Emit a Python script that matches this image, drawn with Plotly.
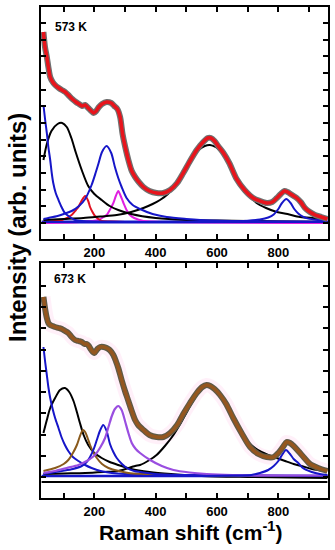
import plotly.graph_objects as go

# ---------------- 573 K panel (y in arbitrary units) ----------------
x_fit_573 = [34, 39, 45, 50, 56, 64, 72, 84, 94, 105, 115, 128, 140, 150, 160, 170, 180, 190, 198, 206,
             215, 225, 240, 255, 265, 275, 284, 292, 300, 311, 322, 333, 345, 360, 380, 403, 425, 447,
             470, 490, 512, 534, 555, 570, 580, 592, 606, 621, 640, 664, 690, 718, 740, 762, 780, 795,
             808, 820, 830, 840, 850, 860, 873, 887, 903, 920, 940, 960]
y_fit_573 = [207, 192, 182, 172, 162, 157, 154, 151, 149, 147, 144, 140, 137, 135, 133, 134, 131, 128, 126, 128,
             132, 135, 137, 136, 133, 130, 122, 105, 93, 79, 68, 62, 57, 52, 48, 46, 46, 49,
             56, 66, 78, 89, 97, 101, 101, 98, 92, 86, 76, 60, 49, 41, 38, 36, 37, 41,
             45, 48, 47, 45, 43, 41, 37, 31, 27, 24, 22, 20]

x_b1_573 = [34, 45, 60, 80, 95, 110, 125, 140, 160, 180, 200, 224, 250, 278, 320, 400, 500, 600, 700, 800, 960]
y_b1_573 = [79, 95, 108, 115, 116, 112, 101, 86, 68, 53, 45, 39, 33, 29, 25, 21, 19, 18.5, 18, 17.5, 17]

x_b2_573 = [34, 100, 164, 220, 273, 320, 360, 390, 414, 440, 458, 480, 499, 520, 540, 560, 577, 595, 615,
            632, 650, 675, 700, 729, 760, 795, 830, 871, 920, 960]
y_b2_573 = [19, 20, 21, 22.5, 24, 27, 31, 35, 39, 45, 52, 61, 72, 82, 89, 93, 94, 92, 87,
            82, 70, 54, 45, 36, 31, 27, 25, 22, 21, 20]

x_bd_573 = [34, 40, 45, 50, 56, 61, 66, 74, 83, 93, 104, 120, 137, 160, 200, 300, 500, 960]
y_bd_573 = [134, 118, 106, 92, 79, 66, 56, 46, 39, 32, 26, 22, 19, 18, 17.5, 17, 17, 17]

x_bp_573 = [34, 50, 80, 100, 126, 150, 170, 191, 205, 213, 225, 240, 255, 267, 278, 289, 305, 325, 349, 390,
            436, 500, 545, 650, 960]
y_bp_573 = [20, 21, 23, 25, 28, 33, 40, 54, 67, 75, 87, 93, 86, 72, 61, 52, 41, 34, 30, 25,
            22, 20, 19, 18, 17]

x_r_573 = [34, 94, 126, 140, 148, 158, 170, 180, 186, 194, 202, 213, 224, 250, 300, 960]
y_r_573 = [17, 19, 24, 29, 32, 38, 43, 38, 32, 27, 23, 20, 18, 17.5, 17, 17]

x_m_573 = [34, 150, 213, 230, 240, 252, 262, 270, 278, 286, 295, 305, 316, 330, 360, 450, 960]
y_m_573 = [16, 17, 19, 22, 24, 30, 36, 43, 48, 43, 36, 29, 24, 21, 18, 17, 16]

x_b825_573 = [34, 400, 600, 700, 740, 767, 785, 800, 812, 826, 840, 852, 865, 880, 898, 930, 960]
y_b825_573 = [17, 17, 17.5, 18.3, 19.5, 21.5, 24.5, 30, 36, 40, 36, 30, 25.6, 22.4, 20.4, 19, 18.2]

x_base_573 = [28, 960]
y_base_573 = [17, 17]

# ---------------- 673 K panel ----------------
x_fit_673 = [34, 39, 45, 50, 56, 64, 72, 84, 94, 105, 115, 126, 137, 148, 159, 168, 175, 182, 190, 200,
             210, 219, 230, 240, 250, 262, 270, 278, 289, 300, 311, 322, 333, 343, 360, 380, 403, 425,
             447, 470, 490, 512, 534, 552, 566, 578, 592, 610, 630, 653, 680, 708, 735, 762, 785, 800,
             815, 827, 838, 850, 865, 885, 903, 930, 960]
y_fit_673 = [201, 190, 180, 175, 173, 172, 171, 170, 169, 167, 165, 161, 158, 157, 156, 154, 154, 152, 148, 145,
             149, 151, 151, 150, 148, 143, 137, 130, 118, 107, 97, 87, 78, 73, 68, 63, 61, 61,
             65, 73, 84, 95, 105, 111, 113, 112, 109, 103, 94, 80, 65, 51, 44, 41, 41, 45,
             51, 56, 55, 52, 47, 40, 34, 30, 27]

x_b1_673 = [34, 45, 56, 72, 88, 104, 118, 132, 143, 153, 165, 180, 200, 224, 250, 278, 320, 380, 450, 550, 700, 960]
y_b1_673 = [65, 78, 90, 100, 108, 110, 106, 97, 86, 75, 63, 53, 45, 40, 36, 33, 29, 26, 24, 22, 21, 20]

x_b2_673 = [34, 100, 170, 230, 278, 333, 349, 380, 403, 430, 458, 480, 500, 520, 540, 555, 572, 590, 610,
            630, 653, 680, 705, 724, 745, 767, 795, 822, 850, 876, 910, 952]
y_b2_673 = [24, 24.5, 25, 26, 27, 32, 33, 38, 43, 52, 63, 74, 85, 96, 105, 110, 112, 110, 103,
            94, 80, 65, 55, 50, 46, 43, 40, 37, 34, 32, 29, 27]

x_bd_673 = [34, 40, 45, 50, 56, 64, 72, 83, 94, 104, 115, 130, 148, 170, 191, 220, 257, 300, 400, 600, 960]
y_bd_673 = [151, 135, 123, 111, 100, 89, 80, 70, 60, 53, 47, 41, 37, 33, 30, 27, 25, 24, 23, 22, 22]

x_br_673 = [34, 72, 100, 115, 130, 143, 152, 160, 164, 170, 178, 186, 196, 208, 225, 246, 280, 311, 360, 450, 960]
y_br_673 = [27, 30, 34, 38, 45, 53, 61, 67, 68, 66, 60, 53, 46, 40, 34, 30, 27, 25, 24, 23, 22]

x_bp_673 = [34, 94, 130, 159, 175, 186, 198, 208, 218, 229, 240, 251, 262, 273, 290, 306, 330, 349, 400, 500, 960]
y_bp_673 = [24, 27, 29, 32, 36, 41, 49, 58, 67, 73, 67, 54, 46, 40, 34, 30, 27, 26, 24, 23, 22]

x_pp_673 = [34, 72, 110, 148, 175, 202, 220, 235, 247, 257, 267, 278, 289, 300, 311, 322, 335, 349, 382, 420,
            458, 510, 567, 650, 800, 960]
y_pp_673 = [25, 27, 30, 33, 37, 43, 51, 60, 72, 82, 89, 92, 88, 77, 65, 55, 49, 45, 38, 32,
            28, 25.5, 24, 23, 22.5, 22.5]

x_b825_673 = [34, 500, 650, 712, 740, 767, 785, 800, 812, 825, 838, 850, 865, 880, 909, 935, 960]
y_b825_673 = [22, 22, 22.5, 23, 25, 28, 32, 37, 43, 48, 44, 39, 35, 30, 26, 24, 23]

x_base_673 = [28, 960]
y_base1_673 = [22, 22]
y_base2_673 = [16, 16]

y_ticks_573 = [16, 32.7, 49.3, 66, 82.7, 99.3, 116, 132.7, 149.3, 166, 182.7, 199.3, 216]
y_ticks_673 = [21, 42.3, 63.5, 84.8, 106, 127.3, 148.5, 169.8, 191, 212.3]

FONT = "Liberation Sans, Arial, sans-serif"
BLUE = "#1616c8"

fig = go.Figure()

def add(x, y, color, width, xa, ya):
    fig.add_trace(go.Scatter(x=x, y=y, mode="lines", xaxis=xa, yaxis=ya,
                             line=dict(color=color, width=width, shape="spline", smoothing=0.8),
                             hoverinfo="skip", showlegend=False))

# top panel
add(x_base_573, y_base_573, BLUE, 3, "x", "y")
add(x_m_573, y_m_573, "#e020e0", 2, "x", "y")
add(x_r_573, y_r_573, "#e01020", 2, "x", "y")
add(x_b1_573, y_b1_573, "black", 2, "x", "y")
add(x_b2_573, y_b2_573, "black", 2, "x", "y")
add(x_bd_573, y_bd_573, BLUE, 2, "x", "y")
add(x_bp_573, y_bp_573, BLUE, 2, "x", "y")
add(x_b825_573, y_b825_573, BLUE, 2, "x", "y")
add(x_fit_573, y_fit_573, "#707070", 6, "x", "y")
add(x_fit_573, y_fit_573, "#e8141c", 3.5, "x", "y")

# bottom panel
add(x_fit_673, y_fit_673, "rgba(255,170,220,0.18)", 14, "x2", "y2")
add(x_base_673, y_base2_673, "black", 2, "x2", "y2")
add(x_base_673, y_base1_673, BLUE, 2.5, "x2", "y2")
add(x_b1_673, y_b1_673, "black", 2, "x2", "y2")
add(x_b2_673, y_b2_673, "black", 2, "x2", "y2")
add(x_bd_673, y_bd_673, BLUE, 2, "x2", "y2")
add(x_br_673, y_br_673, "#8a5a1c", 2, "x2", "y2")
add(x_bp_673, y_bp_673, BLUE, 2, "x2", "y2")
add(x_pp_673, y_pp_673, "#9a4ee0", 2.2, "x2", "y2")
add(x_b825_673, y_b825_673, BLUE, 2, "x2", "y2")
add(x_fit_673, y_fit_673, "#5e5a48", 6, "x2", "y2")
add(x_fit_673, y_fit_673, "#94561f", 3.5, "x2", "y2")

xdom = [41 / 335, 328 / 335]
H = 550
common_x = dict(range=[26, 962], tickmode="linear", tick0=0, dtick=200,
                ticks="inside", ticklen=5, tickwidth=2, tickcolor="black",
                minor=dict(dtick=100, tick0=0, ticks="inside", ticklen=5, tickwidth=2, tickcolor="black"),
                showline=True, linewidth=2, linecolor="black", mirror="ticks",
                showgrid=False, zeroline=False,
                tickfont=dict(family=FONT, size=13, color="black", weight="bold"))
common_y = dict(tickmode="array", showticklabels=False, ticks="inside", ticklen=5, tickwidth=2,
                tickcolor="black", showline=True, linewidth=2, linecolor="black", mirror="ticks",
                showgrid=False, zeroline=False)

fig.update_layout(
    width=335, height=550, margin=dict(l=0, r=0, t=0, b=0),
    paper_bgcolor="white", plot_bgcolor="white", showlegend=False,
    xaxis=dict(domain=xdom, anchor="y", **common_x),
    yaxis=dict(domain=[1 - 239 / H, 1 - 7 / H], anchor="x", range=[0, 232], tickvals=y_ticks_573, **common_y),
    xaxis2=dict(domain=xdom, anchor="y2", **common_x),
    yaxis2=dict(domain=[1 - 498 / H, 1 - 263 / H], anchor="x2", range=[0, 235], tickvals=y_ticks_673, **common_y),
    annotations=[
        dict(text="<b>573 K</b>", x=53 / 335, y=1 - 27 / H, xref="paper", yref="paper",
             xanchor="left", yanchor="middle", showarrow=False,
             font=dict(family=FONT, size=12, color="black")),
        dict(text="<b>673 K</b>", x=52 / 335, y=1 - 279 / H, xref="paper", yref="paper",
             xanchor="left", yanchor="middle", showarrow=False,
             font=dict(family=FONT, size=12, color="black")),
        dict(text="<b>Raman shift (cm<sup>-1</sup>)</b>", x=190 / 335, y=1 - 531 / H, xref="paper", yref="paper",
             xanchor="center", yanchor="middle", showarrow=False,
             font=dict(family=FONT, size=21, color="black")),
        dict(text="<b>Intensity (arb. units)</b>", x=17 / 335, y=1 - 228 / H, xref="paper", yref="paper",
             xanchor="center", yanchor="middle", showarrow=False, textangle=-90,
             font=dict(family=FONT, size=24, color="black")),
    ],
)

fig.write_html("out.html", config={"displayModeBar": False},
               post_script="document.body.style.margin='0';document.body.style.overflow='hidden';")
